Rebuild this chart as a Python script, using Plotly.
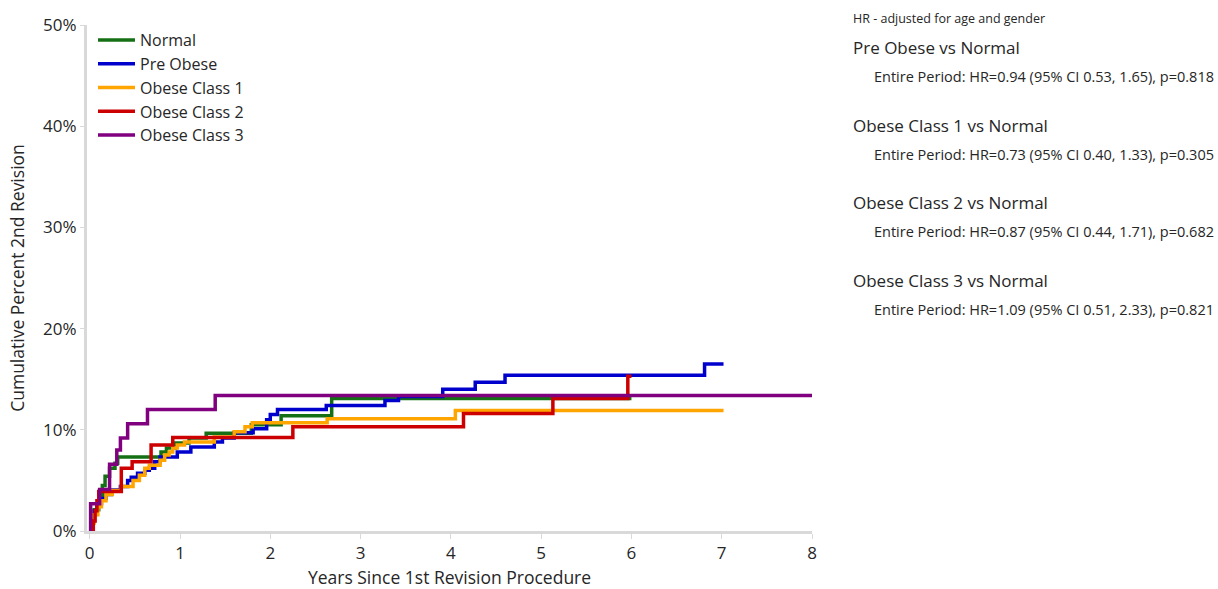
import plotly.graph_objects as go

# ---------------- data ----------------
series_names = ["Normal", "Pre Obese", "Obese Class 1", "Obese Class 2", "Obese Class 3"]
series_colors = ["#157015", "#0000CD", "#FFA500", "#CC0000", "#800080"]

normal_t = [0, 0.02, 0.05, 0.10, 0.14, 0.17, 0.22, 0.28, 0.31, 0.79, 0.85, 0.95, 1.10, 1.29, 1.79, 2.12, 2.68, 6.0]
normal_y = [0, 1.0, 2.1, 3.4, 4.5, 5.4, 6.2, 6.7, 7.3, 7.8, 8.2, 8.7, 9.2, 9.65, 10.5, 11.4, 13.1, 13.1]

preobese_t = [0, 0.02, 0.05, 0.08, 0.13, 0.18, 0.24, 0.34, 0.42, 0.46, 0.53, 0.61, 0.66, 0.72, 0.78,
              0.97, 1.12, 1.38, 1.47, 1.6, 1.81, 1.96, 2.0, 2.08, 2.62, 3.27, 3.42, 3.91, 4.27, 4.6, 6.81, 7.02]
preobese_y = [0, 1.0, 2.0, 2.7, 3.2, 3.6, 4.05, 4.4, 5.0, 5.3, 5.7, 6.0, 6.2, 6.85, 7.3,
              7.8, 8.3, 8.8, 9.2, 9.7, 10.1, 11.0, 11.5, 12.0, 12.4, 12.9, 13.3, 14.0, 14.7, 15.4, 16.5, 16.5]

obese1_t = [0, 0.02, 0.05, 0.09, 0.13, 0.18, 0.25, 0.35, 0.48, 0.55, 0.61, 0.66, 0.78, 0.83, 0.88,
            0.92, 0.97, 1.05, 1.38, 1.6, 1.72, 1.8, 2.63, 4.05, 7.02]
obese1_y = [0, 0.8, 1.6, 2.4, 3.0, 3.6, 4.0, 4.4, 5.0, 5.5, 6.2, 6.5, 7.0, 7.5, 7.8,
            8.2, 8.5, 8.8, 9.3, 9.8, 10.3, 10.7, 11.1, 11.9, 11.9]

obese2_t = [0, 0.04, 0.06, 0.08, 0.10, 0.35, 0.47, 0.68, 0.92, 2.25, 4.14, 5.13, 5.96, 6.0]
obese2_y = [0, 1.0, 2.0, 3.0, 3.9, 6.2, 6.85, 8.5, 9.25, 10.3, 11.6, 13.1, 15.3, 15.3]

obese3_t = [0, 0.01, 0.11, 0.22, 0.30, 0.34, 0.42, 0.64, 1.39, 8.0]
obese3_y = [0, 2.7, 4.1, 6.6, 8.0, 9.2, 10.6, 12.0, 13.4, 13.4]

x_tick_vals = [0, 1, 2, 3, 4, 5, 6, 7, 8]
y_tick_vals = [0, 10, 20, 30, 40, 50]
y_tick_text = ["0%", "10%", "20%", "30%", "40%", "50%"]

hr_header = "HR - adjusted for age and gender"
hr_titles = ["Pre Obese vs Normal", "Obese Class 1 vs Normal", "Obese Class 2 vs Normal", "Obese Class 3 vs Normal"]
hr_texts = [
    "Entire Period: HR=0.94 (95% CI 0.53, 1.65), p=0.818",
    "Entire Period: HR=0.73 (95% CI 0.40, 1.33), p=0.305",
    "Entire Period: HR=0.87 (95% CI 0.44, 1.71), p=0.682",
    "Entire Period: HR=1.09 (95% CI 0.51, 2.33), p=0.821",
]

all_t = [normal_t, preobese_t, obese1_t, obese2_t, obese3_t]
all_y = [normal_y, preobese_y, obese1_y, obese2_y, obese3_y]

# ---------------- layout geometry ----------------
W, H = 1218, 589
ML, MR, MT, MB = 87, 406, 25, 58
PW = W - ML - MR
PH = H - MT - MB

def paper_x(px):
    return (px - ML) / PW

def paper_y(py):
    return (H - MB - py) / PH

FONT = "Segoe UI, Open Sans, Noto Sans, sans-serif"
TXT = "#262626"
AXC = "#d9d9d9"

fig = go.Figure()
for name, color, t, y in zip(series_names, series_colors, all_t, all_y):
    fig.add_trace(go.Scatter(
        x=t, y=y, mode="lines", name=name,
        line=dict(color=color, width=3.5, shape="hv"),
    ))

annotations = [dict(text=hr_header, x=paper_x(851), y=paper_y(18), xref="paper", yref="paper",
                    xanchor="left", yanchor="middle", showarrow=False,
                    font=dict(family=FONT, size=12.5, color=TXT))]
for i, (ttl, txt) in enumerate(zip(hr_titles, hr_texts)):
    annotations.append(dict(text=ttl, x=paper_x(851), y=paper_y(48 + 77.4 * i), xref="paper", yref="paper",
                            xanchor="left", yanchor="middle", showarrow=False,
                            font=dict(family=FONT, size=17, color=TXT)))
    annotations.append(dict(text=txt, x=paper_x(872), y=paper_y(77 + 77.4 * i), xref="paper", yref="paper",
                            xanchor="left", yanchor="middle", showarrow=False,
                            font=dict(family=FONT, size=14.5, color=TXT)))

fig.update_layout(
    width=W, height=H,
    margin=dict(l=ML, r=MR, t=MT, b=MB, pad=0, autoexpand=False),
    paper_bgcolor="white", plot_bgcolor="white",
    font=dict(family=FONT, size=17, color=TXT),
    showlegend=True,
    legend=dict(x=paper_x(93), y=paper_y(23), xanchor="left", yanchor="top",
                bgcolor="rgba(0,0,0,0)", font=dict(family=FONT, size=16, color=TXT),
                tracegroupgap=0, itemwidth=37),
    annotations=annotations,
    xaxis=dict(range=[-0.03, 8.0], tickvals=x_tick_vals, showgrid=False, zeroline=False,
               automargin=False,
               showline=True, linecolor=AXC, linewidth=3, ticks="outside", ticklen=5,
               tickcolor=AXC, tickwidth=1, tickfont=dict(size=17, color=TXT),
               title=dict(text="Years Since 1st Revision Procedure", font=dict(size=17.5, color=TXT), standoff=18)),
    yaxis=dict(range=[0, 50], tickvals=y_tick_vals, ticktext=y_tick_text, showgrid=False, zeroline=False,
               automargin=False,
               showline=True, linecolor=AXC, linewidth=3, ticks="outside", ticklen=4,
               tickcolor=AXC, tickwidth=1, tickfont=dict(size=17, color=TXT),
               title=dict(text="Cumulative Percent 2nd Revision", font=dict(size=17.5, color=TXT), standoff=14)),
)

fig.write_html("out.html",
               config={"displayModeBar": False},
               post_script="document.body.style.margin='0';document.body.style.overflow='hidden';")
